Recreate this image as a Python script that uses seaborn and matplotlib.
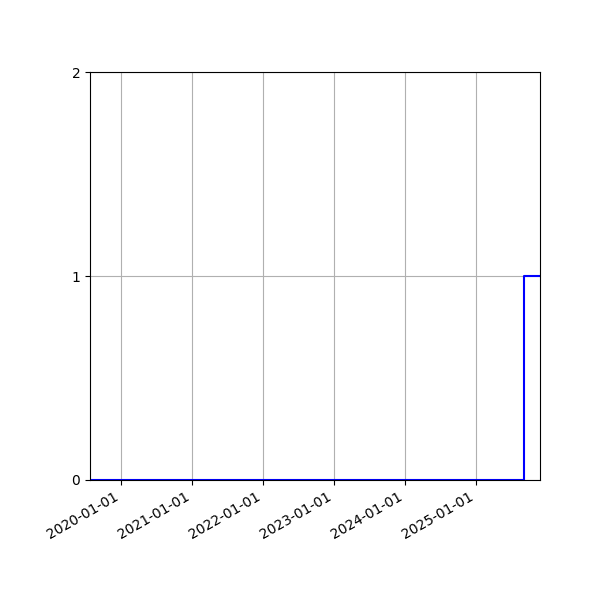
import pandas as pd
import seaborn as sns
import matplotlib
matplotlib.use("Agg")
import matplotlib.pyplot as plt
import matplotlib.dates as mdates

# step data: count goes from 0 to 1 in autumn 2025
dates = ["2019-07-25", "2025-09-07", "2025-11-26"]
counts = [0, 1, 1]

df = pd.DataFrame({"date": pd.to_datetime(dates), "count": counts})

fig, ax = plt.subplots(figsize=(6, 6), dpi=100)
sns.lineplot(data=df, x="date", y="count", ax=ax, color="blue",
             drawstyle="steps-post", linewidth=1.5)

ax.set_xlim(df["date"].min(), df["date"].max())
ax.set_ylim(0, 2)
ax.set_yticks([0, 1, 2])
ax.xaxis.set_major_locator(mdates.YearLocator())
ax.xaxis.set_major_formatter(mdates.DateFormatter("%Y-%m-%d"))
ax.set_xlabel("")
ax.set_ylabel("")
ax.grid(True)
fig.autofmt_xdate()
fig.subplots_adjust(left=0.15, right=0.9, bottom=0.2, top=0.88)

fig.savefig("out.png")
